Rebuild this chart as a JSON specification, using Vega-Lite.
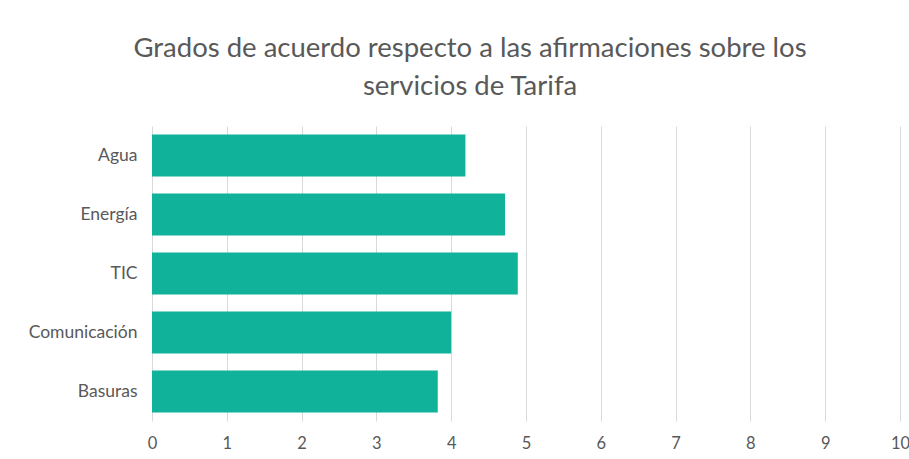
{
  "$schema": "https://vega.github.io/schema/vega-lite/v6.json",
  "autosize": {"type": "none"},
  "padding": {"left": 152, "top": 126, "right": 9, "bottom": 38},
  "width": 748,
  "height": 295,
  "background": "white",
  "title": {
    "text": ["Grados de acuerdo respecto a las afirmaciones sobre los", "servicios de Tarifa"],
    "font": "Lato",
    "fontSize": 27.5,
    "fontWeight": "normal",
    "color": "#595959",
    "lineHeight": 38,
    "anchor": "start",
    "frame": "group",
    "align": "center",
    "dx": 318,
    "offset": 26
  },
  "data": {
    "values": [
      {"servicio": "Agua", "valor": 4.19},
      {"servicio": "Energía", "valor": 4.72},
      {"servicio": "TIC", "valor": 4.89},
      {"servicio": "Comunicación", "valor": 4.0},
      {"servicio": "Basuras", "valor": 3.82}
    ]
  },
  "mark": {"type": "bar", "color": "#10b29a"},
  "encoding": {
    "y": {
      "field": "servicio",
      "type": "nominal",
      "sort": null,
      "scale": {"paddingInner": 0.29, "paddingOuter": 0.145},
      "axis": {
        "title": null,
        "domain": false,
        "ticks": false,
        "labelFont": "Lato",
        "labelFontSize": 17.5,
        "labelColor": "#595959",
        "labelPadding": 15
      }
    },
    "x": {
      "field": "valor",
      "type": "quantitative",
      "scale": {"domain": [0, 10], "nice": false},
      "axis": {
        "title": null,
        "values": [0, 1, 2, 3, 4, 5, 6, 7, 8, 9, 10],
        "domain": false,
        "ticks": false,
        "grid": true,
        "gridColor": "#d9d9d9",
        "gridWidth": 1,
        "labelFont": "Lato",
        "labelFontSize": 16.5,
        "labelColor": "#595959",
        "labelPadding": 14,
        "labelFlush": false
      }
    }
  },
  "config": {"view": {"stroke": null}}
}
